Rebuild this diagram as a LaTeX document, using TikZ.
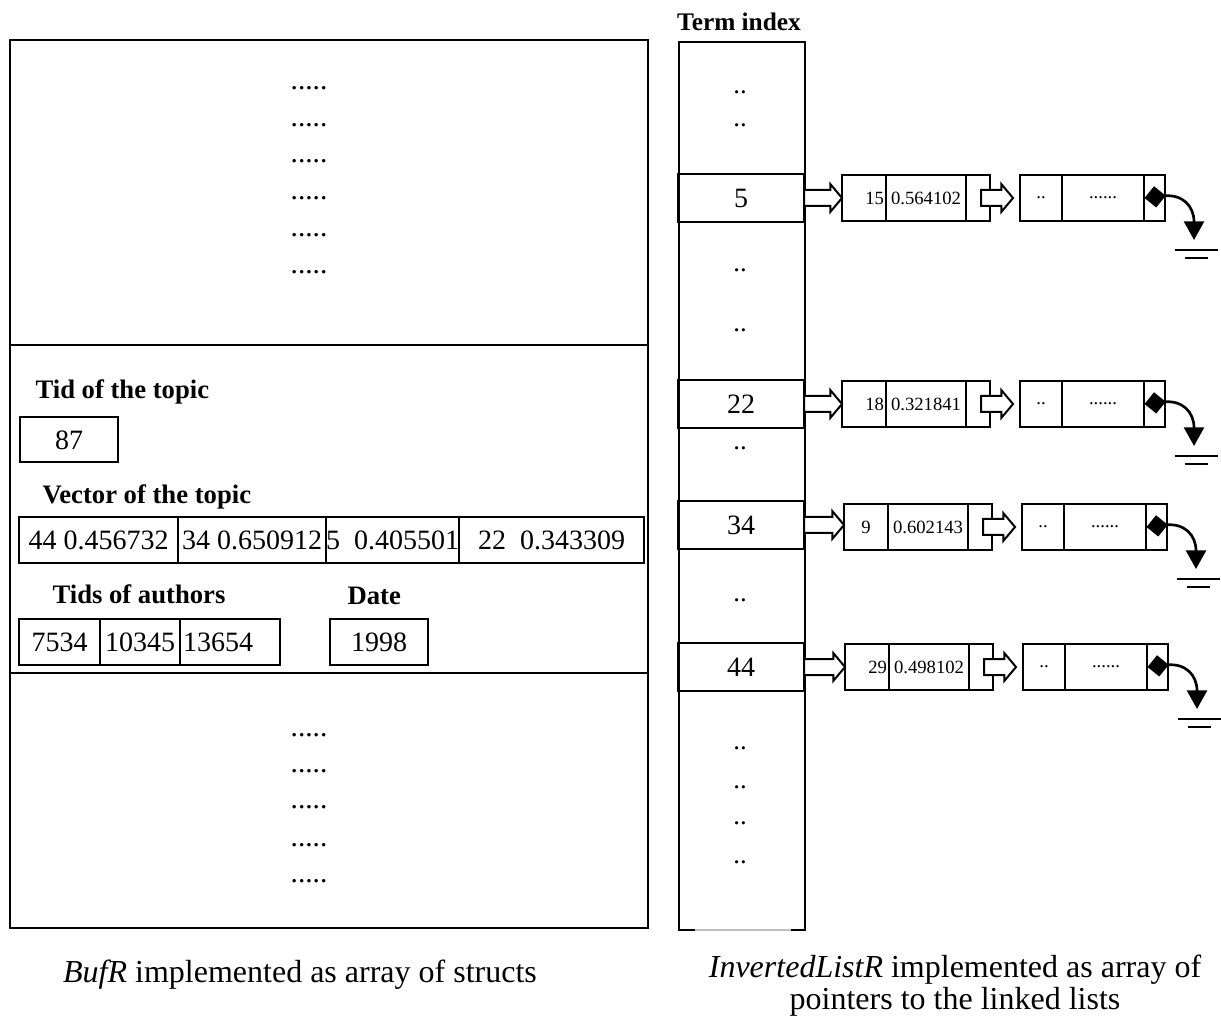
\documentclass[tikz,border=0pt]{standalone}
\usepackage{fontspec}
\setmainfont{Liberation Serif}
\usepackage{tikz}
\usetikzlibrary{arrows.meta, positioning, shapes.arrows, calc}
\newcommand\pxu{0.375pt}

\begin{document}
\begin{tikzpicture}[
  x=0.375pt, y=-0.375pt,
  sect/.style={draw, line width=0.75pt, anchor=north west, inner sep=0pt, outer sep=0pt},
  cell/.style={draw, line width=0.75pt, inner sep=0pt, outer sep=0pt, minimum height=46*\pxu},
  vcell/.style={cell, font=\fontsize{10.5}{12}\selectfont},
  idx/.style={cell, minimum width=126*\pxu, minimum height=48*\pxu,
              font=\fontsize{10.5}{12}\selectfont},
  lcell/.style={cell, font=\fontsize{7}{8}\selectfont},
  fieldname/.style={anchor=west, inner sep=0pt, font=\fontsize{10}{12}\selectfont\bfseries},
  dotsf/.style={inner sep=0pt, font=\fontsize{11}{12}\selectfont},
  tdots/.style={inner sep=0pt, font=\fontsize{10}{12}\selectfont},
  capt/.style={inner sep=0pt, font=\fontsize{12}{12}\selectfont},
  harrow/.style={single arrow, draw, fill=white, line width=0.75pt, inner sep=0pt,
                 outer sep=0pt, inner ysep=7*\pxu, single arrow head extend=6*\pxu,
                 single arrow tip angle=100, anchor=tail},
  nilptr/.style={line width=1pt, {Diamond[length=8pt, width=8pt]}-{Triangle[length=7pt, width=7.5pt]}},
  gnd/.style={line width=0.75pt}
]
  \useasboundingbox (0,0) rectangle (1221,1021);

  \node[sect, minimum width=638*\pxu, minimum height=305*\pxu] (bufTop) at (10,40) {};
  \node[sect, minimum width=638*\pxu, minimum height=328*\pxu] (bufMid) at (10,345) {};
  \node[sect, minimum width=638*\pxu, minimum height=255*\pxu] (bufBot) at (10,673) {};
  \foreach \y in {88,125,161,198,235,272,735,771,807,845,881}
    \node[dotsf] (dl\y) at (309,\y) {.....};

  \node[fieldname] (tidH) at (35,392) {Tid of the topic};
  \node[vcell, minimum width=98*\pxu, minimum height=45*\pxu] (tid) at (69,440) {87};
  \node[fieldname] (vecH) at (42,497) {Vector of the topic};
  \node[vcell, minimum width=159*\pxu] (v1) at (98.5,540) {44 0.456732};
  \node[vcell, minimum width=148*\pxu, right=0pt of v1] (v2) {34 0.650912};
  \node[vcell, minimum width=132*\pxu, right=0pt of v2] (v3) {5\ \ 0.405501};
  \node[vcell, minimum width=185*\pxu, right=0pt of v3] (v4) {22\ \ 0.343309};
  \node[fieldname] (autH) at (52,594) {Tids of authors};
  \node[fieldname] (dateH) at (347,596) {Date};
  \node[vcell, minimum width=81*\pxu] (a1) at (59.5,642) {7534};
  \node[vcell, minimum width=80*\pxu, right=0pt of a1] (a2) {10345};
  \node[vcell, inner xsep=3*\pxu, text width=94*\pxu, align=left, right=0pt of a2] (a3) {13654};
  \node[vcell, minimum width=98*\pxu] (date) at (379,642) {1998};

  \node[inner sep=0pt, font=\fontsize{9.5}{11}\selectfont\bfseries] (termH) at (739,22) {Term index};
  \node[sect, draw=none, minimum width=126*\pxu, minimum height=888*\pxu] (termCol) at (679,42) {};
  \draw[gray!50, line width=0.4pt] (termCol.south west) -- (termCol.south east);
  \draw[line width=0.75pt] ([xshift=16*\pxu]termCol.south west) -| (termCol.north west)
    -- (termCol.north east) |- ([xshift=-14*\pxu]termCol.south east);
  \foreach \y in {92,125,270,330,448,600,748,787,823,862}
    \node[tdots] (tl\y) at (740,\y) {..};

  \node[idx] (t5) at (741,198) {5};
  \node[lcell, minimum width=44*\pxu] (k5) at (864,198) {\hspace{8pt}15};
  \node[lcell, minimum width=80*\pxu, right=0pt of k5] (w5) {0.564102};
  \node[lcell, minimum width=24*\pxu, right=0pt of w5] (p5) {};
  \node[lcell, minimum width=42*\pxu] (k5b) at (1041,198) {..};
  \node[lcell, minimum width=82*\pxu, right=0pt of k5b] (w5b) {......};
  \node[lcell, minimum width=21*\pxu, right=0pt of w5b] (p5b) {};
  \node[harrow, minimum height=38*\pxu] (h5) at (t5.east) {};
  \node[harrow, minimum height=32*\pxu] (h5b) at ([xshift=3*\pxu]p5.center) {};
  \coordinate (g5) at (1194,240);
  \draw[nilptr] ([xshift=-10*\pxu]p5b.center) .. controls +(38,-4) and +(0,-34) .. (g5);
  \draw[gnd] ($(g5)+(-19,10)$) -- ++(43,0) ($(g5)+(-9,18)$) -- ++(23,0);

  \node[idx] (t22) at (741,404) {22};
  \node[lcell, minimum width=44*\pxu] (k22) at (864,404) {\hspace{8pt}18};
  \node[lcell, minimum width=80*\pxu, right=0pt of k22] (w22) {0.321841};
  \node[lcell, minimum width=24*\pxu, right=0pt of w22] (p22) {};
  \node[lcell, minimum width=42*\pxu] (k22b) at (1041,404) {..};
  \node[lcell, minimum width=82*\pxu, right=0pt of k22b] (w22b) {......};
  \node[lcell, minimum width=21*\pxu, right=0pt of w22b] (p22b) {};
  \node[harrow, minimum height=38*\pxu] (h22) at (t22.east) {};
  \node[harrow, minimum height=32*\pxu] (h22b) at ([xshift=3*\pxu]p22.center) {};
  \coordinate (g22) at (1194,446);
  \draw[nilptr] ([xshift=-10*\pxu]p22b.center) .. controls +(38,-4) and +(0,-34) .. (g22);
  \draw[gnd] ($(g22)+(-19,10)$) -- ++(43,0) ($(g22)+(-9,18)$) -- ++(23,0);

  \node[idx] (t34) at (741,525) {34};
  \node[lcell, minimum width=44*\pxu] (k34) at (866,527) {9};
  \node[lcell, minimum width=80*\pxu, right=0pt of k34] (w34) {0.602143};
  \node[lcell, minimum width=24*\pxu, right=0pt of w34] (p34) {};
  \node[lcell, minimum width=42*\pxu] (k34b) at (1043,527) {..};
  \node[lcell, minimum width=82*\pxu, right=0pt of k34b] (w34b) {......};
  \node[lcell, minimum width=21*\pxu, right=0pt of w34b] (p34b) {};
  \node[harrow, minimum height=40*\pxu] (h34) at (t34.east) {};
  \node[harrow, minimum height=32*\pxu] (h34b) at ([xshift=3*\pxu]p34.center) {};
  \coordinate (g34) at (1196,569);
  \draw[nilptr] ([xshift=-10*\pxu]p34b.center) .. controls +(38,-4) and +(0,-34) .. (g34);
  \draw[gnd] ($(g34)+(-19,10)$) -- ++(43,0) ($(g34)+(-9,18)$) -- ++(23,0);

  \node[idx] (t44) at (741,667) {44};
  \node[lcell, minimum width=44*\pxu] (k44) at (867,667) {\hspace{8pt}29};
  \node[lcell, minimum width=80*\pxu, right=0pt of k44] (w44) {0.498102};
  \node[lcell, minimum width=24*\pxu, right=0pt of w44] (p44) {};
  \node[lcell, minimum width=42*\pxu] (k44b) at (1044,667) {..};
  \node[lcell, minimum width=82*\pxu, right=0pt of k44b] (w44b) {......};
  \node[lcell, minimum width=21*\pxu, right=0pt of w44b] (p44b) {};
  \node[harrow, minimum height=41*\pxu] (h44) at (t44.east) {};
  \node[harrow, minimum height=32*\pxu] (h44b) at ([xshift=3*\pxu]p44.center) {};
  \coordinate (g44) at (1197,709);
  \draw[nilptr] ([xshift=-10*\pxu]p44b.center) .. controls +(38,-4) and +(0,-34) .. (g44);
  \draw[gnd] ($(g44)+(-19,10)$) -- ++(43,0) ($(g44)+(-9,18)$) -- ++(23,0);

  \node[capt] (capL) at (300,975) {\textit{BufR} implemented as array of structs};
  \node[capt, align=center] (capR) at (955,986) {\textit{InvertedListR} implemented as array of\\pointers to the linked lists};
\end{tikzpicture}
\end{document}
